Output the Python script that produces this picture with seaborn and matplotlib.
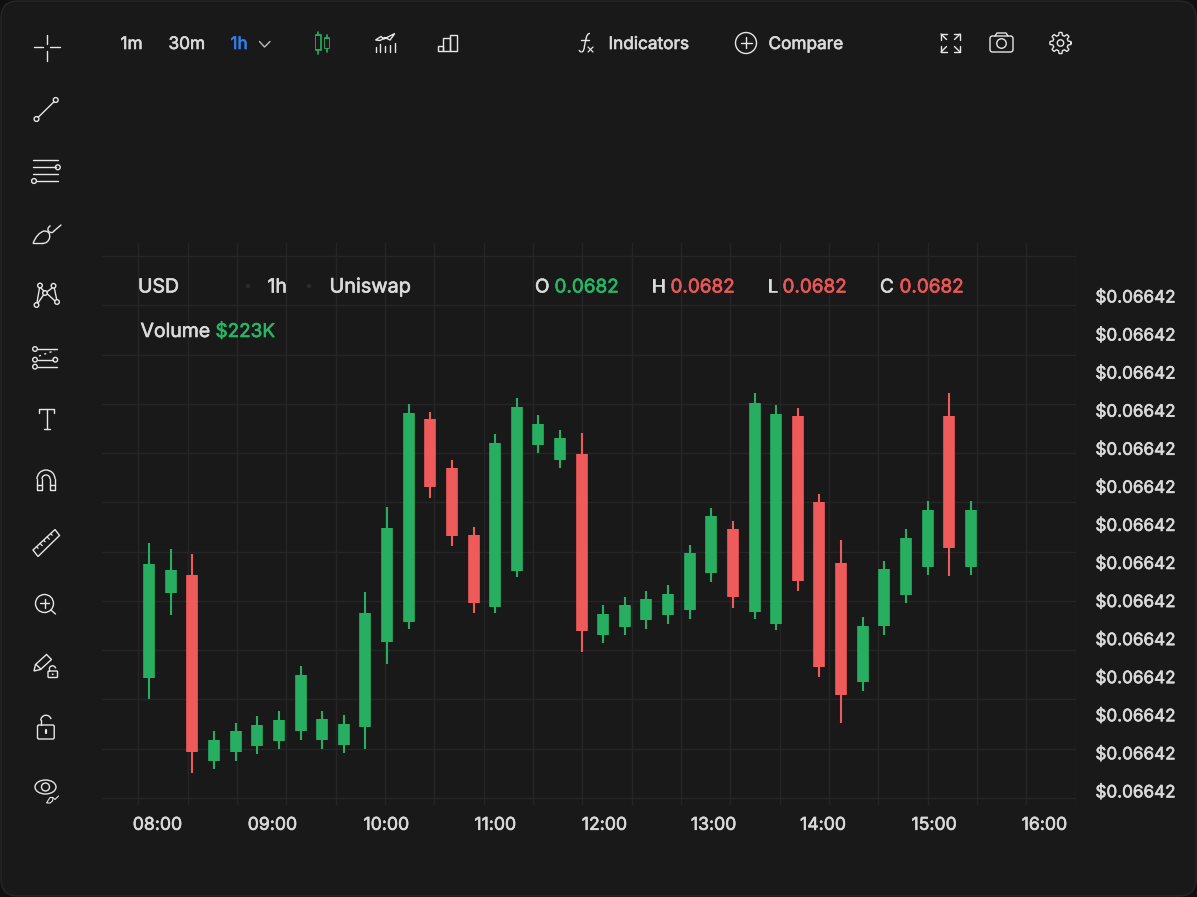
import numpy as np
import pandas as pd
import seaborn as sns
import matplotlib
matplotlib.use("Agg")
import matplotlib.pyplot as plt
import matplotlib.patheffects as pe
from matplotlib.patches import Circle, Ellipse, FancyBboxPatch, Rectangle, Polygon, PathPatch, Arc
from matplotlib.path import Path

# ---- data (price offsets; one unit = smallest readable step)
opens = [120, 205, 223, 37, 46, 52, 57, 67, 58, 53, 71, 156, 176, 379, 330, 263, 191, 227, 353, 338,
         344, 163, 171, 178, 183, 188, 225, 269, 186, 174, 382, 296, 235, 116, 172, 203, 231, 382, 231]
closes = [234, 228, 46, 58, 67, 73, 78, 123, 79, 74, 185, 270, 385, 311, 262, 195, 355, 391, 374, 360,
          167, 184, 193, 199, 204, 245, 282, 201, 395, 384, 217, 131, 103, 172, 229, 260, 288, 250, 288]
highs = [255, 249, 244, 67, 75, 82, 87, 132, 87, 83, 206, 291, 394, 386, 338, 271, 364, 400, 383, 368,
         365, 193, 201, 207, 213, 253, 290, 277, 405, 393, 390, 304, 258, 181, 237, 269, 297, 405, 297]
lows = [99, 183, 25, 29, 37, 44, 49, 58, 49, 45, 49, 134, 169, 300, 252, 185, 185, 221, 345, 330,
        146, 155, 163, 169, 174, 179, 216, 190, 179, 168, 207, 121, 75, 107, 163, 195, 223, 222, 223]
time_labels = ["08:00", "09:00", "10:00", "11:00", "12:00", "13:00", "14:00", "15:00", "16:00"]
time_slots = [0.37, 5.69, 10.96, 16.0, 21.05, 26.1, 31.16, 36.3, 41.4]
price_labels = ["$0.06642"] * 14

BG = "#191919"
GRID = "#252525"
GREEN = "#27AE60"
RED = "#EF5A5A"
TXT = "#DADADA"
ICON = "#E6E6E6"
BLUE = "#2F80ED"
TGREEN = "#24B866"
TRED = "#EB5757"

sns.set_theme(style="dark", rc={"figure.facecolor": "#101010", "axes.facecolor": "none"})
plt.rcParams["font.family"] = ["Inter", "DejaVu Sans"]

W, H = 1197, 897
fig = plt.figure(figsize=(W / 100, H / 100), dpi=100)

def px_axes(zorder):
    a = fig.add_axes([0, 0, 1, 1], zorder=zorder)
    a.set_xlim(0, W)
    a.set_ylim(H, 0)
    a.axis("off")
    a.patch.set_visible(False)
    return a

back = px_axes(0)
back.add_patch(FancyBboxPatch((1, 1), W - 2, H - 2, boxstyle="round,pad=0,rounding_size=17",
                              fc=BG, ec="#262626", lw=1.0))

# ---- chart axes: x is the candle slot, y the price offset
ax_l, ax_r, ax_t, ax_b = 102, 1076, 243, 805
ax = fig.add_axes([ax_l / W, 1 - ax_b / H, (ax_r - ax_l) / W, (ax_b - ax_t) / H], zorder=1)
ax.patch.set_visible(False)

rows_w, rows_b = [], []
for i, (o, c, hi, lo) in enumerate(zip(opens, closes, highs, lows)):
    move = "up" if c >= o else "down"
    rows_w += [dict(slot=i, price=hi, move=move), dict(slot=i, price=lo, move=move)]
    rows_b += [dict(slot=i, price=o, move=move), dict(slot=i, price=c, move=move)]
wicks = pd.DataFrame(rows_w)
bodies = pd.DataFrame(rows_b)
palette = {"up": GREEN, "down": RED}
sns.lineplot(data=wicks, x="slot", y="price", hue="move", units="slot", estimator=None, sort=False,
             palette=palette, linewidth=1.5, solid_capstyle="butt", legend=False, ax=ax)
sns.lineplot(data=bodies, x="slot", y="price", hue="move", units="slot", estimator=None, sort=False,
             palette=palette, linewidth=8.4, solid_capstyle="butt", legend=False, ax=ax)

step = 21.62
x0 = 149.2
ax.set_xlim((ax_l - x0) / step, (ax_r - x0) / step)
ax.set_ylim(798 - ax_b, 798 - ax_t)
ax.set_xlabel("")
ax.set_ylabel("")
ax.set_xticks(time_slots, time_labels)
ax.set_xticks((138.3 + 49.33 * np.arange(20) - x0) / step, minor=True)
ax.yaxis.tick_right()
ax.set_yticks(502 - 38.07 * np.arange(14), price_labels)
ax.set_yticks(49.27 * np.arange(12), minor=True)
ax.grid(False, which="major")
ax.grid(True, which="minor", color=GRID, lw=1.0)
ax.set_axisbelow(True)
ax.tick_params(axis="both", which="both", length=0)
ax.tick_params(axis="x", which="major", pad=8.5, labelsize=12.7, labelcolor=TXT)
ax.tick_params(axis="y", which="major", pad=14, labelsize=12.3, labelcolor=TXT)
for lab in ax.get_xticklabels() + ax.get_yticklabels():
    lab.set_path_effects([pe.withStroke(linewidth=0.45, foreground=TXT)])
sns.despine(ax=ax, left=True, bottom=True, right=True, top=True)

# ---- interface overlay, in picture pixels
ui = px_axes(2)

def label(x, y, s, color=TXT, size=12.4):
    ui.text(x, y, s, color=color, fontsize=size, ha="left", va="baseline",
            path_effects=[pe.withStroke(linewidth=0.45, foreground=color)])

for x, s, c in [(120.5, "1m", TXT), (168.5, "30m", TXT), (230.5, "1h", BLUE), (608.5, "Indicators", TXT), (768.5, "Compare", TXT)]:
    label(x, 49, s, c)
for x, s, c, sz in [(138, "USD", TXT, 14), (267.5, "1h", TXT, 14), (329.5, "Uniswap", TXT, 14.3), (535, "O", TXT, 13.6),
                    (554.5, "0.0682", TGREEN, 13.6), (651.5, "H", TXT, 13.6), (670.5, "0.0682", TRED, 13.6),
                    (767.5, "L", TXT, 13.6), (782.5, "0.0682", TRED, 13.6),
                    (880, "C", TXT, 13.6), (899.5, "0.0682", TRED, 13.6)]:
    label(x, 292.5, s, c, size=sz)
label(140.5, 337, "Volume", TXT, size=14)
label(215.5, 337, "$223K", TGREEN, size=13.6)
for x in (248, 309):
    ui.add_patch(Circle((x, 286), 2.2, fc="#2B2B2B", ec="none"))

LW = 1.0

def ln(pts, color=ICON, lw=LW):
    a = np.array(pts, float)
    ui.plot(a[:, 0], a[:, 1], color=color, lw=lw, solid_capstyle="round", solid_joinstyle="round")

def circ(x, y, r, color=ICON, lw=LW):
    ui.add_patch(Circle((x, y), r, fc="none", ec=color, lw=lw))

def curve(pts, color=ICON, lw=LW):
    codes = [Path.MOVETO] + [Path.CURVE3] * (len(pts) - 1)
    ui.add_patch(PathPatch(Path(pts, codes), fc="none", ec=color, lw=lw))

def box(x0_, y0_, x1_, y1_, color=ICON, lw=LW, r=0.0):
    if r:
        ui.add_patch(FancyBboxPatch((x0_, y0_), x1_ - x0_, y1_ - y0_, boxstyle=f"round,pad=0,rounding_size={r}",
                                    fc="none", ec=color, lw=lw))
    else:
        ui.add_patch(Rectangle((x0_, y0_), x1_ - x0_, y1_ - y0_, fc="none", ec=color, lw=lw))

# crosshair
ln([(33.5, 47.5), (43, 47.5)]); ln([(50, 47.5), (60, 47.5)])
ln([(46.5, 35), (46.5, 44)]); ln([(46.5, 51), (46.5, 61)])
# trend line
circ(36.5, 119, 2.4); circ(55.7, 100, 2.4); ln([(38.3, 117.2), (54, 101.8)])
# parallel lines
ln([(33, 160.5), (58, 160.5)]); ln([(33, 167.3), (55.5, 167.3)]); circ(57.8, 167.3, 2.4)
ln([(33, 174), (58, 174)]); ln([(36.5, 181), (58, 181)]); circ(34, 181, 2.4)
# brush
curve([(33, 243.5), (37, 233), (44, 231), (51, 231), (49.5, 238), (48, 243.5), (42, 243.5)])
ln([(33, 243.5), (42, 243.5)])
curve([(50.5, 225.5), (46, 229), (49, 231.5)])
curve([(49, 231.5), (52, 234), (54, 231)])
ln([(54, 231), (61, 225)])
# pattern
for p in [(40, 285.5), (53.5, 285.8), (36.5, 305), (57, 302), (45, 293)]:
    circ(p[0], p[1], 2.3)
ln([(39.5, 288), (37, 302.5)]); ln([(40.8, 288), (44, 291)]); ln([(52.2, 288), (47, 291.8)])
ln([(54.3, 288), (56.7, 299.5)]); ln([(38, 303), (43.5, 295)]); ln([(47.3, 293.8), (54.8, 300.8)])
# channel
circ(35, 349, 2.3); ln([(37.5, 349), (57, 349)]); circ(35, 359.7, 2.3); ln([(37.5, 359.7), (53, 359.7)])
circ(55.3, 359.7, 2.3); circ(35, 366.7, 2.3); ln([(37.5, 366.7), (57, 366.7)])
ui.plot([39, 55], [356, 350.5], color=ICON, lw=LW, ls=(0, (1.5, 2.5)))
# text tool
ln([(39, 413), (39, 409.3), (54.3, 409.3), (54.3, 413)]); ln([(46.5, 409.3), (46.5, 429)]); ln([(43.5, 429), (50, 429)])
# magnet
ui.add_patch(Arc((46, 479), 18, 18, theta1=180, theta2=360, ec=ICON, lw=LW))
ui.add_patch(Arc((46, 479), 8, 8, theta1=180, theta2=360, ec=ICON, lw=LW))
ln([(37, 479), (37, 490.5), (42, 490.5), (42, 479)]); ln([(50, 479), (50, 490.5), (55, 490.5), (55, 479)])
ln([(37, 485), (42, 485)]); ln([(50, 485), (55, 485)])
# ruler
ui.add_patch(Polygon([(33, 550), (55, 529.5), (59.5, 535.5), (38, 556.5)], closed=True, fc="none", ec=ICON, lw=LW))
for t in (0.16, 0.32, 0.48, 0.64, 0.8):
    xa, ya = 33 + 22 * t, 550 - 20.5 * t
    d = 3.2 if t in (0.32, 0.64) else 2.2
    ln([(xa, ya), (xa + d * 0.7, ya + d * 0.72)], lw=0.9)
# zoom
circ(44.5, 603.5, 9); ln([(40, 603.5), (49, 603.5)]); ln([(44.5, 599), (44.5, 608)]); ln([(51, 610), (55.5, 614)])
# pencil + lock
ui.add_patch(Polygon([(34, 671), (35.5, 664.5), (46.5, 654.5), (51.5, 659.5), (40.5, 669.5)], closed=True, fc="none", ec=ICON, lw=LW))
ln([(36, 664.5), (41, 669.2)])
box(48, 671, 57.5, 677.5, r=1)
ui.add_patch(Arc((52.5, 669), 6.4, 6.4, theta1=180, theta2=350, ec=ICON, lw=LW))
ln([(49.3, 669), (49.3, 671)])
ui.add_patch(Circle((52.7, 674.3), 0.9, fc=ICON, ec="none"))
# unlock
box(37.5, 725, 54.2, 739, r=1.5)
ui.add_patch(Arc((46, 720.5), 10.5, 10.5, theta1=180, theta2=345, ec=ICON, lw=LW))
ln([(40.8, 720.5), (40.8, 725)])
ln([(45.7, 730.5), (45.7, 733.5)], lw=1.6)
# eye + brush
ui.add_patch(Ellipse((45.5, 787), 21, 14, fc="none", ec=ICON, lw=LW))
circ(45.5, 787, 4)
ui.add_patch(Polygon([(46.5, 803), (50, 797.5), (53, 797.5), (52.5, 801), (50, 803)], closed=True, fc=BG, ec=ICON, lw=0.8))
ln([(53.5, 798), (55, 799.5), (58.5, 796)], lw=0.8)
# chevron
ln([(259.5, 41.5), (264.5, 47), (270, 41.5)], color="#BDBDBD")
# candle chart-type icon
ln([(318, 32), (318, 54)], color=GREEN, lw=1.2); box(315.5, 35.5, 320.8, 50, color=GREEN, lw=1.2)
ln([(327, 35), (327, 52)], color=GREEN, lw=1.2); box(324.8, 38.5, 329.3, 48.5, color=GREEN, lw=1.2)
ui.add_patch(Rectangle((316, 36), 4.4, 13.5, fc=BG, ec="none", zorder=3))
ui.add_patch(Rectangle((325.2, 39), 3.7, 9, fc=BG, ec="none", zorder=3))
# mixed chart icon
for bx, by in [(375.5, 47), (380.2, 44), (385, 46), (390, 45), (394.6, 43)]:
    ln([(bx, by), (bx, 52)])
ui.add_patch(Polygon([(375.5, 40), (381, 36.5), (384, 39), (394.8, 33.5), (390, 40), (385, 37.5), (380, 40.5)], closed=True, fc="none", ec=ICON, lw=LW))
# bars icon
box(437.8, 46, 443, 51.5); box(443, 38.5, 449.5, 51.5); box(449.5, 35, 456.5, 51.5)
# f(x) icon
curve([(579, 50), (580, 52), (581.5, 52)]); curve([(581.5, 52), (584, 52), (584.5, 46)])
ln([(584.5, 46), (586, 39)]); curve([(586, 39), (587, 33), (590, 33.5)])
ln([(581, 40), (589, 40)])
ln([(588, 47), (593, 52)], lw=0.9); ln([(593, 47), (588, 52)], lw=0.9)
# compare
circ(746, 43, 10.5); ln([(740.5, 43), (751.5, 43)]); ln([(746, 37.5), (746, 48.5)])
# expand
for cx, cy, sx, sy in [(941, 34, 1, 1), (960, 34, -1, 1), (941, 52, 1, -1), (960, 52, -1, -1)]:
    ln([(cx + sx * 6, cy), (cx, cy), (cx, cy + sy * 6)])
    ln([(cx, cy), (cx + sx * 5.5, cy + sy * 5.5)])
# camera
box(990, 36, 1013, 52, r=2.5)
ln([(995, 36), (997, 33), (1006, 33), (1008, 36)])
ui.add_patch(Ellipse((1001.5, 43.5), 9.5, 9.5, fc="none", ec=ICON, lw=LW))
# gear
th = np.linspace(0, 2 * np.pi, 241)
rad = 9.2 + 1.4 * np.clip(2.2 * np.cos(8 * th), -1, 1)
ui.plot(1060.5 + rad * np.cos(th), 43 + rad * np.sin(th), color=ICON, lw=LW)
circ(1060.5, 43, 3.2)

fig.savefig("out.png", dpi=100, facecolor=fig.get_facecolor())
